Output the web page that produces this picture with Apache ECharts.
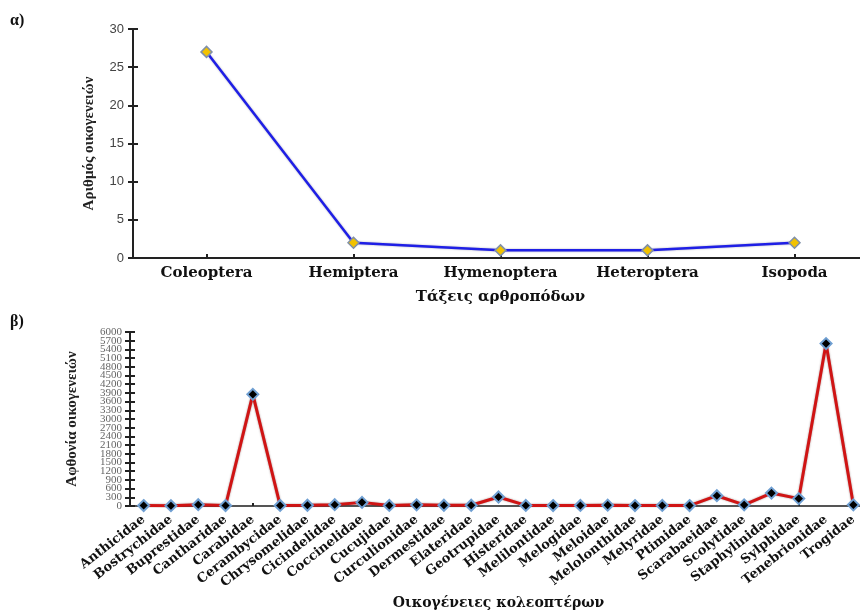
<!DOCTYPE html>
<html>
<head>
<meta charset="utf-8">
<script src="https://cdn.jsdelivr.net/npm/echarts@6/dist/echarts.min.js"></script>
<style>
  html, body { margin: 0; padding: 0; background: #ffffff; }
  #chart { width: 860px; height: 612px; }
</style>
</head>
<body>
<div id="chart"></div>
<script>
// (α) number of families per arthropod order
const orders = ['Coleoptera', 'Hemiptera', 'Hymenoptera', 'Heteroptera', 'Isopoda'];
const familyCounts = [27, 2, 1, 1, 2];

// (β) abundance of beetle families
const families = [
  'Anthicidae', 'Bostrychidae', 'Buprestidae', 'Cantharidae', 'Carabidae',
  'Cerambycidae', 'Chrysomelidae', 'Cicindelidae', 'Coccinelidae', 'Cucujidae',
  'Curculionidae', 'Dermestidae', 'Elateridae', 'Geotrupidae', 'Histeridae',
  'Melilontidae', 'Melogidae', 'Meloidae', 'Melolonthidae', 'Melyridae',
  'Ptimidae', 'Scarabaeidae', 'Scolytidae', 'Staphylinidae', 'Sylphidae',
  'Tenebrionidae', 'Trogidae'
];
const abundance = [
  15, 10, 45, 15, 3850,
  20, 25, 45, 125, 20,
  40, 25, 25, 310, 20,
  15, 20, 30, 15, 20,
  15, 355, 40, 445, 255,
  5600, 40
];

// axis ranges
const countAxis = { min: 0, max: 30, interval: 5 };
const abundanceAxis = { min: 0, max: 6000, interval: 300 };

const serif = '"Liberation Serif", "DejaVu Serif", serif';
const wideSerif = '"DejaVu Serif", "Liberation Serif", serif';
const sans = '"Liberation Sans", Arial, sans-serif';

const chart = echarts.init(document.getElementById('chart'), null, { renderer: 'canvas' });

// a second, label-less axis with inward ticks makes the ticks cross the axis line
function crossTicksX(gridIndex, data, len) {
  return {
    type: 'category', gridIndex, data, boundaryGap: true, position: 'bottom',
    axisLine: { show: false }, axisLabel: { show: false },
    axisTick: { show: true, inside: true, alignWithLabel: true, length: len,
                lineStyle: { color: '#222', width: 2 } }
  };
}
function crossTicksY(gridIndex, range, len) {
  return {
    type: 'value', gridIndex, min: range.min, max: range.max, interval: range.interval,
    position: 'left',
    axisLine: { show: false }, axisLabel: { show: false }, splitLine: { show: false },
    axisTick: { show: true, inside: true, length: len, lineStyle: { color: '#222', width: 2 } }
  };
}

const abundanceLabel = { color: '#666', fontFamily: serif, fontSize: 11, margin: 8 };

chart.setOption({
  animation: false,
  backgroundColor: '#ffffff',
  graphic: [
    { type: 'text', left: 10, top: 13, style: { text: 'α)', font: 'bold 16px ' + serif, fill: '#111' } },
    { type: 'text', left: 10, top: 314, style: { text: 'β)', font: 'bold 16px ' + serif, fill: '#111' } }
  ],
  grid: [
    { left: 133, top: 29, width: 735, height: 229, outerBoundsMode: 'none', containLabel: false },
    { left: 130, top: 332, width: 737, height: 174, outerBoundsMode: 'none', containLabel: false }
  ],
  xAxis: [
    {
      type: 'category', gridIndex: 0, data: orders, boundaryGap: true, position: 'bottom',
      axisLine: { lineStyle: { color: '#222', width: 2 } },
      axisTick: { alignWithLabel: true, length: 4, lineStyle: { color: '#222', width: 2 } },
      axisLabel: { interval: 0, color: '#111', fontFamily: wideSerif, fontWeight: 'bold', fontSize: 15, margin: 8 },
      name: 'Τάξεις αρθροπόδων', nameLocation: 'middle', nameGap: 32, nameMoveOverlap: false,
      nameTextStyle: { color: '#111', fontFamily: wideSerif, fontWeight: 'bold', fontSize: 15 }
    },
    crossTicksX(0, orders, 4),
    {
      type: 'category', gridIndex: 1, data: families, boundaryGap: true, position: 'bottom',
      axisLine: { lineStyle: { color: '#555', width: 2 } },
      axisTick: { alignWithLabel: true, length: 3, lineStyle: { color: '#222', width: 2 } },
      axisLabel: { interval: 0, rotate: 38, color: '#111', fontFamily: wideSerif, fontWeight: 'bold',
                   fontSize: 13, margin: 12 },
      name: 'Οικογένειες κολεοπτέρων', nameLocation: 'middle', nameGap: 90, nameMoveOverlap: false,
      nameTextStyle: { color: '#111', fontFamily: wideSerif, fontWeight: 'bold', fontSize: 14 }
    },
    crossTicksX(1, families, 3)
  ],
  yAxis: [
    {
      type: 'value', gridIndex: 0, min: countAxis.min, max: countAxis.max, interval: countAxis.interval,
      position: 'left',
      axisLine: { show: true, lineStyle: { color: '#222', width: 2 } },
      axisTick: { show: true, length: 5, lineStyle: { color: '#222', width: 2 } },
      splitLine: { show: false },
      axisLabel: { color: '#444', fontFamily: sans, fontSize: 13, margin: 9 },
      name: 'Αριθμός οικογενειών', nameLocation: 'middle', nameGap: 36, nameMoveOverlap: false,
      nameTextStyle: { color: '#222', fontFamily: serif, fontWeight: 'bold', fontSize: 15 }
    },
    crossTicksY(0, countAxis, 5),
    {
      // inner labels 300 … 5700 (end labels are drawn by the next axis so none get dropped)
      type: 'value', gridIndex: 1, min: abundanceAxis.min, max: abundanceAxis.max, interval: abundanceAxis.interval,
      position: 'left',
      axisLine: { show: true, lineStyle: { color: '#222', width: 2 } },
      axisTick: { show: true, length: 5, lineStyle: { color: '#222', width: 2 } },
      splitLine: { show: false },
      axisLabel: Object.assign({ showMinLabel: false, showMaxLabel: false, formatter: v => String(v) }, abundanceLabel),
      name: 'Αφθονία οικογενειών', nameLocation: 'middle', nameGap: 50, nameMoveOverlap: false,
      nameTextStyle: { color: '#222', fontFamily: serif, fontWeight: 'bold', fontSize: 15 }
    },
    crossTicksY(1, abundanceAxis, 5),
    {
      // end labels 0 and 6000
      type: 'value', gridIndex: 1, min: abundanceAxis.min, max: abundanceAxis.max, interval: abundanceAxis.interval,
      position: 'left',
      axisLine: { show: false }, splitLine: { show: false },
      axisTick: { show: true, length: 5, lineStyle: { color: '#222', width: 2 } },
      axisLabel: Object.assign({ showMinLabel: true, showMaxLabel: true,
        formatter: v => (v === abundanceAxis.min || v === abundanceAxis.max) ? String(v) : '' }, abundanceLabel)
    }
  ],
  series: [
    {
      type: 'line', xAxisIndex: 0, yAxisIndex: 0, data: familyCounts,
      symbol: 'diamond', symbolSize: 11,
      lineStyle: { color: '#1f1fe6', width: 2.5, shadowColor: 'rgba(0,0,60,0.35)', shadowBlur: 2 },
      itemStyle: { color: '#f2c200', borderColor: '#8090a8', borderWidth: 1.5 }
    },
    {
      type: 'line', xAxisIndex: 2, yAxisIndex: 2, data: abundance,
      symbol: 'diamond', symbolSize: 11,
      lineStyle: { color: '#d01414', width: 3, shadowColor: 'rgba(60,0,0,0.45)', shadowBlur: 2 },
      itemStyle: { color: '#000000', borderColor: '#6f9fd2', borderWidth: 2 }
    }
  ]
});
</script>
</body>
</html>
